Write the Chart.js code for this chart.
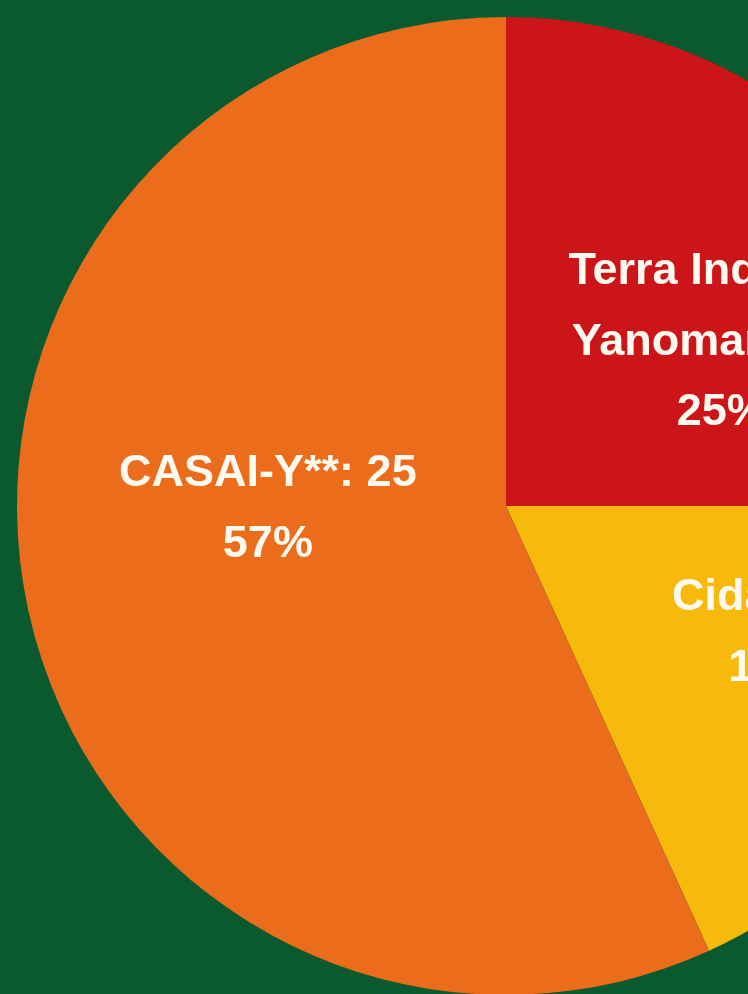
<!DOCTYPE html>
<html>
<head>
<meta charset="utf-8">
<script src="https://cdn.jsdelivr.net/npm/chart.js@4"></script>
<style>
  html, body { margin: 0; padding: 0; background: #0b5a2f; overflow: hidden; width: 748px; height: 994px; }
  #wrap { position: absolute; left: 0; top: 0; width: 1012px; height: 1012px; }
</style>
</head>
<body>
<div id="wrap"><canvas id="c" width="1012" height="1012"></canvas></div>
<script>
// Data
const categories = ['Terra Indígena Yanomami', 'Cidade', 'CASAI-Y**'];
const labelLines = [['Terra Indígena', 'Yanomami: 11', '25%'], ['Cidade: 8', '18%'], ['CASAI-Y**: 25', '57%']];
const values = [11, 8, 25];
const colors = ['#cc1518', '#f8b90d', '#eb6d1c'];

// label placement: angle (deg, clockwise from top) and radius fraction
const labelLayout = [
  { angle: 52.8, r: 0.554 },
  { angle: 115.4, r: 0.605 },
  { angle: 269.3, r: 0.487 }
];

const labelPlugin = {
  id: 'sliceLabels',
  afterDatasetsDraw(chart) {
    const ctx = chart.ctx;
    const meta = chart.getDatasetMeta(0);
    ctx.save();
    ctx.font = 'bold 45px "Liberation Sans", Arial, sans-serif';
    ctx.fillStyle = '#fffaf0';
    ctx.textAlign = 'center';
    ctx.textBaseline = 'middle';
    meta.data.forEach((arc, i) => {
      const L = labelLayout[i];
      const a = L.angle * Math.PI / 180;
      const cx = arc.x + Math.sin(a) * arc.outerRadius * L.r;
      const cy = arc.y - Math.cos(a) * arc.outerRadius * L.r;
      const lines = labelLines[i];
      const lh = 70.5;
      const y0 = cy - (lines.length - 1) * lh / 2;
      lines.forEach((t, k) => ctx.fillText(t, cx, y0 + k * lh));
    });
    ctx.restore();
  }
};

new Chart(document.getElementById('c'), {
  type: 'pie',
  data: {
    labels: categories,
    datasets: [{ data: values, backgroundColor: colors, borderWidth: 0 }]
  },
  options: {
    responsive: false,
    devicePixelRatio: 1,
    animation: false,
    layout: { padding: 17 },
    plugins: { legend: { display: false }, tooltip: { enabled: false } }
  },
  plugins: [labelPlugin]
});
</script>
</body>
</html>
